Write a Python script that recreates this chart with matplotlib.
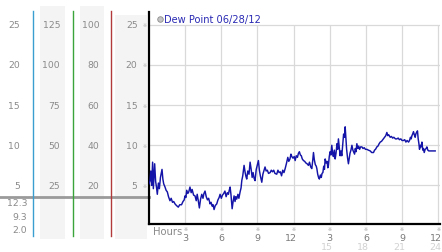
import matplotlib
matplotlib.use("Agg")
import matplotlib.pyplot as plt
from matplotlib.transforms import blended_transform_factory, ScaledTranslation

# ---------------- data ----------------
hours = [0.00, 0.08, 0.15, 0.22, 0.30, 0.36, 0.42, 0.47, 0.55, 0.62, 0.69, 0.78, 0.86, 0.95,
         1.08, 1.15, 1.22, 1.33, 1.42, 1.52, 1.62, 1.74, 1.84, 1.95, 2.05, 2.16, 2.28, 2.43,
         2.55, 2.70, 2.82, 2.92, 2.99, 3.06, 3.13, 3.22, 3.30, 3.40, 3.50, 3.58, 3.70, 3.82,
         3.92, 4.00, 4.08, 4.18, 4.28, 4.38, 4.48, 4.56, 4.65, 4.75, 4.85, 4.95, 5.07, 5.15,
         5.25, 5.32, 5.40, 5.50, 5.62, 5.72, 5.82, 5.90, 6.00, 6.10, 6.20, 6.30, 6.40, 6.50,
         6.59, 6.66, 6.73, 6.80, 6.90, 6.98, 7.06, 7.14, 7.20, 7.28, 7.38, 7.46, 7.56, 7.64,
         7.70, 7.78, 7.89, 7.98, 8.05, 8.11, 8.20, 8.30, 8.39, 8.48, 8.56, 8.64, 8.72, 8.80,
         8.90, 9.00, 9.08, 9.16, 9.24, 9.36, 9.45, 9.55, 9.63, 9.72, 9.82, 9.92, 10.05, 10.15,
         10.25, 10.35, 10.45, 10.60, 10.70, 10.80, 10.90, 11.00, 11.10, 11.20, 11.30, 11.40,
         11.52, 11.60, 11.70, 11.78, 11.85, 11.95, 12.05, 12.13, 12.22, 12.32, 12.40, 12.48,
         12.56, 12.64, 12.72, 12.82, 12.92, 13.02, 13.12, 13.23, 13.32, 13.42, 13.51, 13.58,
         13.65, 13.72, 13.80, 13.88, 13.93, 14.00, 14.07, 14.14, 14.22, 14.30, 14.36, 14.43,
         14.50, 14.56, 14.62, 14.70, 14.78, 14.84, 14.89, 14.96, 15.03, 15.10, 15.17, 15.24,
         15.30, 15.38, 15.45, 15.52, 15.60, 15.66, 15.72, 15.80, 15.86, 15.93, 16.00, 16.08,
         16.15, 16.22, 16.28, 16.34, 16.40, 16.48, 16.55, 16.62, 16.68, 16.76, 16.84, 16.92,
         17.00, 17.06, 17.12, 17.18, 17.25, 17.33, 17.40, 17.48, 17.56, 17.67, 17.76, 17.86,
         17.96, 18.08, 18.20, 18.36, 18.48, 18.63, 18.72, 18.80, 18.91, 19.00, 19.10, 19.19,
         19.30, 19.40, 19.46, 19.55, 19.65, 19.74, 19.82, 19.90, 20.02, 20.12, 20.22, 20.32,
         20.45, 20.57, 20.68, 20.78, 20.90, 21.00, 21.12, 21.22, 21.32, 21.42, 21.54, 21.62,
         21.70, 21.76, 21.82, 21.88, 21.95, 22.02, 22.09, 22.16, 22.22, 22.28, 22.34, 22.40,
         22.45, 22.52, 22.58, 22.65, 22.72, 22.78, 22.84, 22.92, 23.00, 23.06, 23.14, 23.22,
         23.28, 23.40, 23.55, 23.75]

dew_point = [5.2, 5.6, 6.8, 5.0, 7.9, 4.6, 6.2, 7.7, 5.5, 4.8, 3.9, 5.3, 4.6, 6.0,
             7.0, 5.8, 5.2, 4.8, 4.4, 4.2, 3.6, 3.1, 3.4, 2.9, 3.0, 2.7, 2.5, 2.3,
             2.6, 2.6, 3.0, 3.2, 3.7, 3.5, 4.4, 4.0, 4.2, 4.8, 4.1, 4.5, 3.8, 3.7,
             3.1, 3.9, 3.2, 2.2, 3.3, 3.9, 3.4, 4.0, 4.3, 3.6, 3.2, 3.4, 2.7, 2.9,
             2.4, 2.6, 2.0, 2.5, 2.7, 3.2, 3.5, 3.9, 3.4, 3.8, 4.0, 4.3, 3.6, 4.1,
             3.9, 4.4, 4.8, 3.9, 2.1, 3.0, 3.7, 3.0, 3.6, 3.3, 3.9, 3.4, 4.2, 4.7,
             5.6, 6.2, 7.5, 6.6, 6.1, 5.8, 6.8, 6.4, 7.9, 7.0, 6.0, 6.6, 5.9, 5.6,
             7.0, 7.6, 8.1, 6.9, 6.2, 5.4, 6.4, 6.9, 7.3, 6.8, 6.9, 6.5, 6.6, 6.9,
             6.7, 6.9, 6.5, 6.4, 6.9, 6.6, 6.7, 6.2, 6.9, 6.6, 7.1, 7.7,
             8.5, 8.0, 8.3, 8.9, 8.6, 8.4, 8.6, 8.1, 8.7, 8.5, 9.0, 9.2,
             8.8, 8.7, 8.3, 8.1, 8.0, 7.8, 7.7, 7.5, 7.9, 7.3, 7.1, 8.0,
             9.1, 8.2, 7.6, 7.4, 7.1, 6.4, 6.0, 5.8, 6.3, 6.0, 6.5, 6.6,
             7.4, 7.0, 8.3, 7.8, 8.0, 7.2, 7.5, 8.6, 9.2, 8.8, 10.0, 9.0,
             8.6, 9.4, 8.3, 9.0, 10.2, 9.5, 10.8, 9.6, 8.7, 9.3, 8.7, 10.2,
             11.4, 11.0, 12.3, 11.0, 9.5, 8.4, 7.7, 8.4, 9.0, 9.4, 10.0, 9.4,
             9.1, 8.9, 9.6, 9.2, 10.2, 9.6, 9.9, 9.5, 9.8, 9.8, 9.6, 9.7,
             9.5, 9.5, 9.4, 9.3, 9.1, 9.1, 9.4, 9.5, 9.8, 9.9, 10.2, 10.4,
             10.5, 10.7, 10.8, 11.0, 11.2, 11.6, 11.2, 11.3, 11.0, 11.1, 10.9, 11.0,
             10.8, 10.8, 10.9, 10.7, 10.8, 10.6, 10.6, 10.7, 10.4, 10.6, 10.4, 10.6,
             11.0, 10.8, 11.2, 11.4, 11.7, 11.3, 11.0, 11.5, 11.6, 11.8, 10.8, 10.2,
             9.5, 10.0, 9.8, 10.4, 9.4, 9.6, 9.1, 9.5, 9.6, 9.8, 9.4, 9.3,
             9.3, 9.3, 9.3, 9.3]

y_ticks = [5, 10, 15, 20, 25]
col1_labels = ["5", "10", "15", "20", "25"]
col2_labels = ["25", "50", "75", "100", "125"]
col3_labels = ["20", "40", "60", "80", "100"]
col4_labels = ["5", "10", "15", "20", "25"]
stat_labels = ["12.3", "9.3", "2.0"]          # max, current, min
x_ticks = [3, 6, 9, 12, 15, 18, 21, 24]
x_labels_12h = ["3", "6", "9", "12", "3", "6", "9", "12"]
x_labels_24h = ["", "", "", "", "15", "18", "21", "24"]
legend_label = "Dew Point 06/28/12"

# ---------------- figure ----------------
W, H = 442, 253
fig = plt.figure(figsize=(W / 100, H / 100), dpi=100)
fig.patch.set_facecolor("white")

# overlay in pixel coordinates
ov = fig.add_axes([0, 0, 1, 1], zorder=0)
ov.set_xlim(0, W)
ov.set_ylim(H, 0)
ov.axis("off")

# main axes
ax = fig.add_axes([149 / W, (H - 225) / H, (440 - 149) / W, (225 - 13) / H], zorder=1)
ax.set_xlim(0, 24.15)
ax.set_ylim(0.2, 26.6)
ax.patch.set_alpha(0)
for s in ("top", "right"):
    ax.spines[s].set_visible(False)
for s in ("left", "bottom"):
    ax.spines[s].set_color("black")
    ax.spines[s].set_linewidth(1.6)
ax.set_xticks([])
ax.set_yticks([])

grid_c = "#d9d9d9"
for v in y_ticks:
    ax.axhline(v, color=grid_c, lw=0.9, zorder=0)
ax.vlines(x_ticks, 0.2, 25, color=grid_c, lw=0.9, zorder=0)

ax.plot(hours, dew_point, color="#1414a8", lw=1.05, zorder=3)

# legend
ov.plot([160], [20], marker="o", ms=4, mfc="#c4c4c4", mec="#8c8c8c", mew=0.6)
ov.text(164, 20, legend_label, color="#2a2ab4", fontsize=7.1, va="center", ha="left")

# ---------------- left panels ----------------
tr = blended_transform_factory(ov.transData, ax.transData)
lab_c = "#8a8a8a"
fs = 6.7

# shaded columns
for x0, x1, y0 in [(40, 65, 7), (80, 104, 7), (115, 147, 16)]:
    ov.fill_between([x0, x1], [y0, y0], [240, 240], color="#f4f4f4", lw=0, zorder=0)

# coloured separators
for xl, c in [(33, "#3a9fd0"), (72.5, "#3ba43b"), (111, "#b23a3a")]:
    ov.plot([xl, xl], [12, 237], color=c, lw=1.0, zorder=2)

# grey horizontal separator
ov.plot([0, 149], [197.5, 197.5], color="#9a9a9a", lw=2.0, zorder=1)

for v, a, b, c, d in zip(y_ticks, col1_labels, col2_labels, col3_labels, col4_labels):
    ov.text(20, v, a, transform=tr, ha="right", va="center", fontsize=fs, color=lab_c)
    ov.text(60, v, b, transform=tr, ha="right", va="center", fontsize=fs, color=lab_c)
    ov.text(99.5, v, c, transform=tr, ha="right", va="center", fontsize=fs, color=lab_c)
    ov.text(137.5, v, d, transform=tr, ha="right", va="center", fontsize=fs, color=lab_c)
    ov.text(145, v, "\u203b", transform=tr, ha="center", va="center", fontsize=3.5, color="#b0b0b0")

for yy, s in zip([204, 218, 231], stat_labels):
    ov.text(27, yy, s, ha="right", va="center", fontsize=fs, color=lab_c)

# ---------------- x labels ----------------
trx = blended_transform_factory(ax.transData, ov.transData)
shift = ScaledTranslation(-2.5 / 100, 0, fig.dpi_scale_trans)
ov.text(153, 232, "Hours", ha="left", va="center", fontsize=7.2, color=lab_c)
for xv, l1, l2 in zip(x_ticks, x_labels_12h, x_labels_24h):
    ov.text(xv, 230, "\u203b", transform=trx, ha="center", va="center", fontsize=3.5, color="#a0a0a0")
    t1 = trx + shift if len(l1) > 1 else trx
    ov.text(xv, 238.5, l1, transform=t1, ha="center", va="center", fontsize=6.8, color="#7a7a7a")
    if l2:
        ov.text(xv, 247.5, l2, transform=trx + shift, ha="center", va="center", fontsize=6.8, color="#d2d2d2")

fig.savefig("out.png", dpi=100, facecolor="white")
